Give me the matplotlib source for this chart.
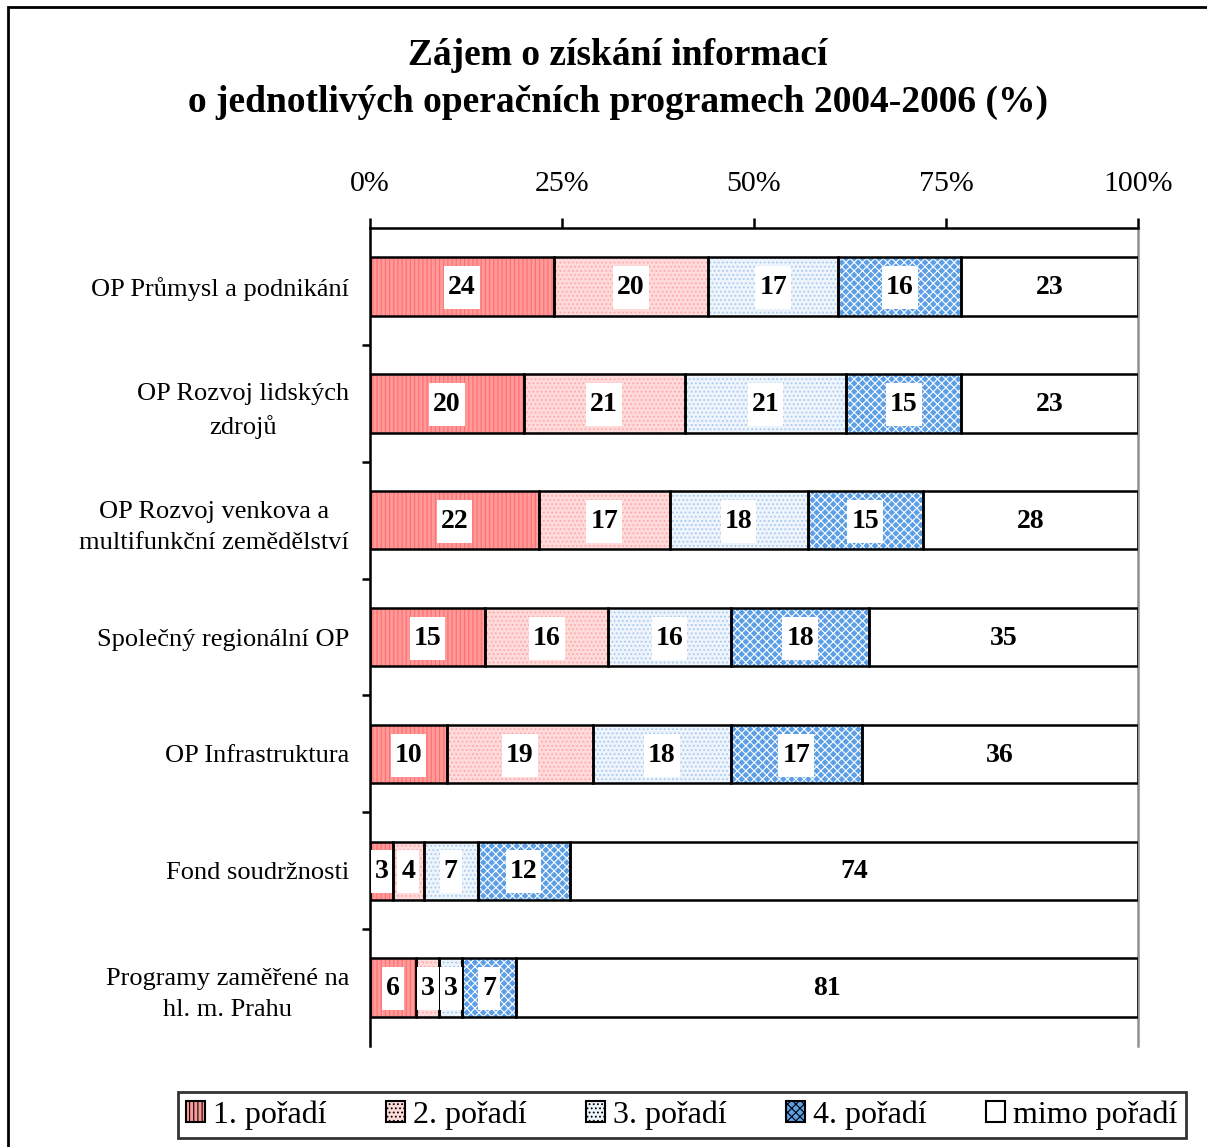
import matplotlib.pyplot as plt
import numpy as np
from matplotlib.patches import Rectangle, Patch
from matplotlib.path import Path

plt.rcParams["font.family"] = ["Liberation Serif", "DejaVu Serif"]
plt.rcParams["hatch.linewidth"] = 0.8

TITLE = "Zájem o získání informací\no jednotlivých operačních programech 2004-2006 (%)"

categories = [
    "OP Průmysl a podnikání",
    "OP Rozvoj lidských\nzdrojů",
    "OP Rozvoj venkova a\nmultifunkční zemědělství",
    "Společný regionální OP",
    "OP Infrastruktura",
    "Fond soudržnosti",
    "Programy zaměřené na\nhl. m. Prahu",
]
series_names = ["1. pořadí", "2. pořadí", "3. pořadí", "4. pořadí", "mimo pořadí"]
first = [24, 20, 22, 15, 10, 3, 6]
second = [20, 21, 17, 16, 19, 4, 3]
third = [17, 21, 18, 16, 18, 7, 3]
fourth = [16, 15, 15, 18, 17, 12, 7]
outside = [23, 23, 28, 35, 36, 74, 81]
xticks = [0, 25, 50, 75, 100]
xtick_labels = ["0%", "25%", "50%", "75%", "100%"]

# face colour, hatch, hatch colour
styles = [
    ("#FF9A9A", "||||", "#FF6E6E"),
    ("#FFDADA", "....", "#FFA8A8"),
    ("#EEF4FC", "....", "#A9C9EE"),
    ("#5D9FE6", "xxxx", "#FFFFFF"),
    ("#FFFFFF", None, "#FFFFFF"),
]


def tall_box(x0, y0, width, height, mutation_size):
    # white label box, padded more vertically than horizontally
    px, py = 4.0, 9.0
    x0, y0 = x0 - px, y0 - py
    x1, y1 = x0 + width + 2 * px, y0 + height + 2 * py
    return Path([(x0, y0), (x1, y0), (x1, y1), (x0, y1), (x0, y0)],
                closed=True)


fig = plt.figure(figsize=(12.07, 11.47), dpi=100)
ax = fig.add_axes([370 / 1207, 1 - 1046 / 1147, 768 / 1207, 818 / 1147])

y = np.arange(len(categories))
data = [first, second, third, fourth, outside]
left = np.zeros(len(categories))
for vals, (face, hatch, hcol) in zip(data, styles):
    vals = np.array(vals, dtype=float)
    ax.barh(y, vals, left=left, height=0.5, color=face, hatch=hatch,
            edgecolor=hcol, linewidth=0, zorder=2)
    ax.barh(y, vals, left=left, height=0.5, fill=False, edgecolor="black",
            linewidth=1.8, zorder=3)
    for yi, v, l in zip(y, vals, left):
        ax.text(l + v / 2, yi + 0.01, f"{v:.0f}", ha="center", va="center",
                fontsize=20, fontweight="bold", zorder=4,
                bbox=dict(boxstyle=tall_box, facecolor="white",
                          edgecolor="none"))
    left += vals

ax.set_xlim(0, 100)
ax.set_ylim(len(categories) - 0.5, -0.5)
ax.xaxis.tick_top()
ax.set_xticks(xticks)
ax.set_xticklabels(xtick_labels, fontsize=21.5)
ax.tick_params(axis="x", length=7, width=1.8, pad=15, direction="out")
ax.set_yticks(y)
ax.set_yticklabels(categories, fontsize=19, multialignment="center",
                   linespacing=1.55)
ax.tick_params(axis="y", which="major", length=0, pad=15)
ax.set_yticks(np.arange(0.5, len(categories) - 1, 1), minor=True)
ax.tick_params(axis="y", which="minor", length=6, width=1.8)

for side in ["left", "top"]:
    ax.spines[side].set_linewidth(1.8)
ax.spines["bottom"].set_visible(False)
ax.spines["right"].set_color("#909090")
ax.spines["right"].set_linewidth(1.8)

fig.text(618 / 1207, 1 - 79 / 1147, TITLE, ha="center", va="center",
         fontsize=27, fontweight="bold", linespacing=1.45)

# legend
handles = [Patch(facecolor=f, hatch=h, edgecolor="black", linewidth=1.5)
           for f, h, _ in styles]
leg = fig.legend(handles, series_names, loc="center",
                 bbox_to_anchor=(682 / 1207, 1 - 1115 / 1147), ncol=5,
                 fontsize=23, frameon=True, fancybox=False,
                 handlelength=0.6, handleheight=0.6, handletextpad=0.25,
                 columnspacing=1.85, borderpad=0.25, borderaxespad=0)
leg.get_frame().set_edgecolor("black")
leg.get_frame().set_linewidth(2)

# outer frame of the chart area
fig.patches.append(Rectangle((8 / 1207, -0.1), 1.2, 1.1 - 7 / 1147,
                             transform=fig.transFigure, fill=False,
                             edgecolor="black", linewidth=2, clip_on=False))

fig.savefig("out.png", dpi=100)
